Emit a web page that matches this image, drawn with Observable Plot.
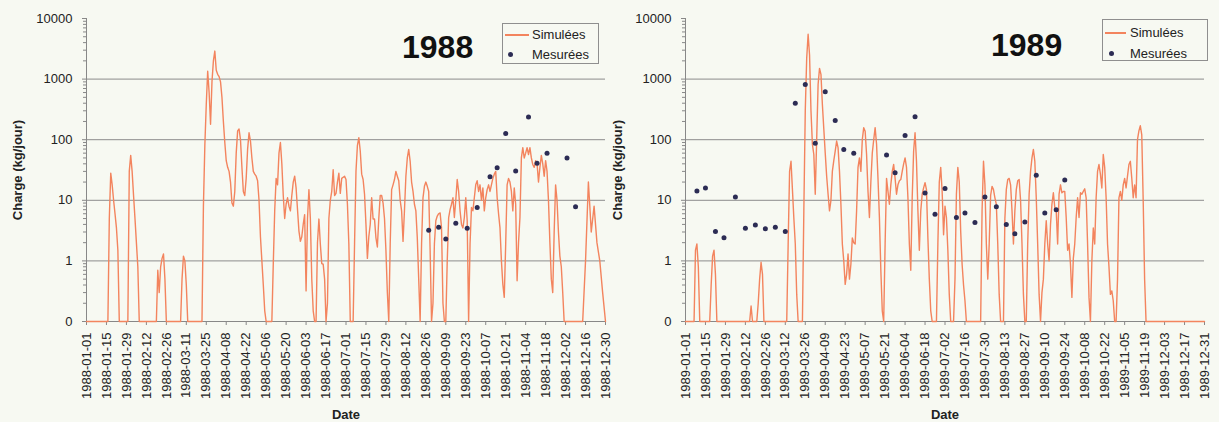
<!DOCTYPE html>
<html><head><meta charset="utf-8">
<script src="https://cdn.jsdelivr.net/npm/d3@7"></script>
<script src="https://cdn.jsdelivr.net/npm/@observablehq/plot@0.6"></script>
<style>
body{margin:0;background:#f7f9f2;}
#wrap{position:relative;width:1219px;height:422px;overflow:hidden;font-family:"Liberation Sans",Arial,sans-serif;background:#f7f9f2;}
#wrap svg{position:absolute;top:0;}
.title{position:absolute;font-weight:bold;font-size:32px;line-height:32px;color:#111;}
.legend{position:absolute;border:1px solid #8f8f8f;box-sizing:border-box;font-size:13px;color:#222;}
.legend .row{position:absolute;left:0;height:14px;line-height:14px;white-space:nowrap;}
.legend .sw{position:absolute;top:6px;height:1.5px;background:#f3845e;}
.legend .dt{position:absolute;top:4px;width:5px;height:5px;border-radius:50%;background:#2c2c54;}
.legend .tx{position:absolute;top:0;}
</style></head>
<body><div id="wrap"></div>
<script>
// ---- data: [day offset from Jan 1, value in kg/jour] ----
const sim1988 = [[0,0],[15,0],[16,5],[17,28],[18,18],[19,10],[20,6],[21,3.5],[22,1.5],[23,0],
[29,0],[30,30],[31,55],[32,30],[33,12],[34,5],[35,2],[36,0.8],[37,0],
[49,0],[50,0.7],[51,0.3],[52,0.8],[53,1.1],[54,1.3],[55,0.5],[56,0],
[66,0],[67,0.5],[68,1.2],[69,1.0],[70,0.4],[71,0],
[81,0],[82,8],[83,80],[84,380],[85,1350],[86,600],[87,180],[88,900],[89,2000],[90,2900],[91,1400],[92,1200],[93,1100],[94,900],[95,500],[96,200],[97,90],[98,45],[99,35],[100,30],[101,20],[102,9],[103,8],[104,14],[105,60],[106,140],[107,150],
[108,100],[109,35],[110,14],[111,12],[112,23],[113,70],[114,130],[115,95],[116,50],[117,30],[118,27],[119,25],[120,21],[121,10],[122,2.5],[123,1],[124,0.4],[125,0.15],[126,0],[130,0],[131,0.9],[132,6.7],[133,23],[134,18],[135,60],[136,90],[137,40],[138,12],[139,5],[140,8.6],[141,11],[142,8],[143,6.7],[144,12],[145,20],[146,25],[147,16],[148,7],[149,3.1],[150,2.1],[151,2.5],[152,4],[153,5.8],[154,0.32],[155,5],[156,15],[157,5],[158,0.5],[159,0.15],[160,0],[161,0],[162,2],[163,4.9],[164,1.9],[165,0.9],[166,0.88],[167,0.5],[168,0],[169,0.2],[170,5],[171,10],[172,14],[173,32],[174,12],[175,13],[176,20],[177,28],[178,13],[179,23],[180,24],[181,25],[182,22],[183,8.6],[184,1.9],[185,0],[187,0],[188,1.9],[189,30],[190,80],[191,108],[192,65],[193,27],[194,22],[195,12.6],[196,4],[197,1.1],[198,2.5],[199,4],[200,11],[201,4.9],[202,4.9],[203,2.4],[204,1.7],[205,5],[206,12],[207,12],[208,9],
[209,5],[210,1.5],[211,0.3],[212,0],[213,1.9],[214,15],[215,18],[216,22],[217,30],[218,25],[219,21],[220,10],[221,6.7],[222,2.1],[223,6.7],[224,25],[225,50],[226,69],[227,44],[228,20],[229,14],[230,8.6],[231,6.7],[232,2.4],[233,0.5],[234,0],[235,1.9],[236,11],[237,17],[238,20],[239,17],[240,14],[241,1.5],[242,0],[243,0.2],[244,1.9],[245,4.6],[246,5.5],[247,6],[248,6.2],[249,3.5],[250,0.2],[251,0],[252,0],[253,1],[254,5.2],[255,7],[256,8.6],[257,11],[258,5.2],[259,10],[260,22],[261,14],[262,6.7],[263,4],[264,3.5],[265,5.2],[266,11],[267,4.6],[268,0],[269,1.9],[270,7.6],[271,6.7],[272,11],[273,18],[274,21],[275,14],[276,18],[277,10],[278,16],[279,6.7],[280,11],[281,15],[282,18],[283,14],[284,18],[285,23],[286,27],[287,30],[288,11],[289,6],[290,3.5],[291,1],[292,0.41],[293,0.25],[294,1.9],[295,18],[296,23],[297,20],[298,14],[299,6.7],[300,16],[301,8.6],[302,0.47],[303,2],[304,5.2],[305,50],[306,74],[307,50],[308,60],[309,74],[310,57],[311,74],[312,50],[313,39],[314,35],
[315,45],[316,40],[317,20],[318,35],[319,55],[320,40],[321,25],[322,45],[323,30],[324,10],[325,2],[326,0.5],[327,0.3],[328,3],[329,18],[330,10],[331,3],[332,1.2],[333,0.8],[334,0.3],[335,0],[348,0],[350,1],[352,20],[353,8],[354,3],[356,8],[358,2],[360,1],[362,0.3],[364,0]];
const meas1988 = [[240,3.2],[247,3.6],[252,2.3],[259,4.2],[267,3.45],[274,7.6],[283,24.5],[288,34.5],[294,126],[301,30.5],[310,236],[316,41],[323,60],[337,50],[343,7.8]];

const sim1989 = [[0,0],[6,0],[7,1.5],[8,1.9],[9,0.8],[10,0],[17,0],[18,0.4],[19,1.2],[20,1.5],[21,0.6],[22,0],[45,0],[46,0.18],[47,0],[50,0],[51,0.2],[52,0.5],[53,0.95],[54,0.6],[55,0.1],[56,0],
[71,0],[72,1.9],[73,30],[74,44],[75,15],[76,5],[77,1.9],[78,0.28],[79,0.1],[80,0],[82,0],[83,6.7],[84,300],[85,2200],[86,5500],[87,2500],[88,300],[89,84],[90,57],[91,12.6],[92,100],[93,815],[94,1500],[95,1200],[96,380],[97,150],[98,60],[99,25],[100,12.6],[101,6.7],[102,10],[103,30],[104,45],[105,65],[106,95],[107,74],[108,30],[109,8.6],[110,1.9],[111,1],[112,0.41],[113,0.6],[114,1.3],[115,0.5],[116,0.88],[117,2.4],[118,2],[119,1.9],[120,6.7],[121,35],[122,50],[123,30],[124,100],[125,158],[126,138],[127,57],[128,14],[129,5.2],[130,20],[131,60],[132,100],[133,158],[134,84],[135,23],[136,5.2],[137,0.7],[138,0.15],[139,0],[140,1.9],[141,23],[142,14],[143,8.6],[144,18],[145,30],[146,39],[147,23],[148,12.6],[149,18],[150,21],[151,22],[152,30],[153,40],[154,50],[155,35],[156,11],[157,1.9],[158,0.7],[159,11],[160,65],[161,130],[162,44],[163,6.7],[164,1.5],[165,6.7],[166,12.6],[167,16],[168,19.5],[169,15],[170,2.4],[171,0.5],[172,0.15],[173,0],[176,0],[177,1.9],[178,20],[179,35],[180,14],[181,2.7],[182,8],[183,5.2],[184,1.5],[185,0.28],[186,0],[188,0],[189,0.5],[190,12.6],[191,35],[192,20],[193,3.1],[194,0.88],[195,0.4],[196,0.22],[197,0],[207,0],[208,6.7],[209,44],[210,18],[211,1.9],[212,0.5],[213,1.9],[214,12],[215,17],[216,15],[217,11],[218,8.6],[219,1.9],[220,0.28],[221,0],[223,0],[224,5],[225,15],[226,22],[227,23],[228,18],[229,6.7],[230,1.9],[231,6.7],[232,15],[233,21],[234,22],[235,10],[236,1.9],[237,0.28],[238,0],[239,0],[240,1.9],[241,12.6],[242,30],[243,50],[244,69],[245,44],[246,11],[247,1.9],[248,0.28],[249,0],[250,0.3],[251,0.5],[252,1.9],[253,4.6],[254,1.9],[255,1],[256,4],[257,8.6],[258,13.3],[259,7.6],[260,6.7],[261,1.9],[262,12.6],[263,18],[264,13.3],[265,14],[266,14],[267,5.2],[268,1.5],[269,1.9],[270,0.88],[271,0.25],[272,1.1],[273,1.9],[274,5.2],[275,11],[276,5.2],[277,13.3],[278,12.6],[279,14],[280,15.5],[281,11],[282,1.9],[283,0.25],[284,0],[285,1],[286,3.5],[287,1.9],[288,11],[289,30],[290,39],[291,27],[292,16],[293,57],[294,35],[295,11],[296,1.9],[297,0.8],[298,0.28],[299,0.32],[300,0.22],[301,0.1],[302,0],[303,0.5],[304,11],[305,14],[306,10],[307,18],[308,23],[309,16],[310,25],[311,39],[312,44],[313,23],[314,11],[315,18],[316,11],[317,100],[318,140],[319,170],[320,120],[321,10],[322,0.5],[323,0],[364,0]];
const meas1989 = [[8,14.2],[14,16],[21,3.05],[27,2.4],[35,11.3],[42,3.45],[49,3.9],[56,3.4],[63,3.6],[70,3.05],[77,400],[84,815],[91,87],[98,620],[105,208],[111,69],[118,60],[141,56],[147,28.5],[154,117],[161,240],[168,13.2],[175,5.9],[182,15.7],[190,5.2],[196,6.2],[203,4.3],[210,11.3],[218,7.8],[225,4],[231,2.8],[238,4.4],[246,25.8],[252,6.2],[260,7],[266,21.6]];

const yMajor = [0.1, 1, 10, 100, 1000, 10000];
const yGrid = [1, 10, 100, 1000];
const yLabels = ["0", "1", "10", "100", "1000", "10000"];
const tickEveryDays = 14;
const spanDays = 364;
const yTitle = "Charge (kg/jour)";
const xTitle = "Date";
const legendLabels = ["Simulées", "Mesurées"];

const LINE = "#f3845e", DOT = "#2c2c54", GRID = "#8c8c8c", AXIS = "#888";
const fmt = d3.utcFormat("%Y-%m-%d");
const minor = [];
for (let k = -1; k < 4; k++) for (let m = 2; m <= 9; m++) minor.push(m * Math.pow(10, k));

function panel(year, sim, meas, left, width, mLeft, mRight, yDx) {
  const t0 = Date.UTC(year, 0, 1);
  const toDate = d => new Date(t0 + d * 864e5);
  const simD = sim.map(([d, v]) => ({date: toDate(d), v}));
  const measD = meas.map(([d, v]) => ({date: toDate(d), v}));
  const ticks = d3.range(0, spanDays + 1, tickEveryDays).map(toDate);
  const yv = d => Math.max(d.v, 0.1);
  const svg = Plot.plot({
    width, height: 422, marginLeft: mLeft, marginRight: mRight, marginTop: 18, marginBottom: 101,
    style: {background: "transparent", fontFamily: '"Liberation Sans", Arial, sans-serif', fontSize: "13px", color: "#222", overflow: "visible"},
    x: {type: "utc", domain: [toDate(0), toDate(spanDays)]},
    y: {type: "log", domain: [0.1, 10000]},
    marks: [
      Plot.gridY(yGrid, {stroke: GRID, strokeOpacity: 1, strokeWidth: 1}),
      Plot.ruleY([0.1], {stroke: AXIS}),
      Plot.ruleX([toDate(0)], {stroke: AXIS}),
      Plot.axisY(minor, {tickSize: 3, tickFormat: () => "", stroke: AXIS, label: null}),
      Plot.axisY(yMajor, {tickSize: 4, tickPadding: 10, stroke: AXIS, label: null,
        tickFormat: d => yLabels[yMajor.indexOf(d)]}),
      Plot.axisX(ticks, {tickSize: 4, tickPadding: 7, tickRotate: -90, stroke: AXIS, label: null, tickFormat: fmt}),
      Plot.line(simD, {x: "date", y: yv, stroke: LINE, strokeWidth: 1.4, curve: "linear"}),
      Plot.dot(measD, {x: "date", y: yv, r: 2.5, fill: DOT, stroke: "none"}),
      Plot.text([yTitle], {frameAnchor: "left", dx: yDx, rotate: -90, textAnchor: "middle", lineAnchor: "middle", fontWeight: "bold", fontSize: 13, fill: "#222"}),
      Plot.text([xTitle], {frameAnchor: "bottom", dy: 93, textAnchor: "middle", lineAnchor: "middle", fontWeight: "bold", fontSize: 13, fill: "#222"})
    ]
  });
  svg.style.left = left + "px";
  svg.style.overflow = "visible";
  return svg;
}

const wrap = document.getElementById("wrap");
wrap.appendChild(panel(1988, sim1988, meas1988, 0, 625, 86, 20, -68.5));
wrap.appendChild(panel(1989, sim1989, meas1989, 605, 614, 80, 15, -67.5));

function addTitle(text, left, top) {
  const t = document.createElement("div");
  t.className = "title"; t.textContent = text;
  t.style.left = left + "px"; t.style.top = top + "px";
  wrap.appendChild(t);
}
addTitle("1988", 402, 31);
addTitle("1989", 991, 29);

function addLegend(left, top, w, h, swX, swW, dotX, txX, row1, row2) {
  const L = document.createElement("div");
  L.className = "legend";
  Object.assign(L.style, {left: left + "px", top: top + "px", width: w + "px", height: h + "px"});
  L.innerHTML =
    `<div class="row" style="top:${row1}px;width:100%"><div class="sw" style="left:${swX}px;width:${swW}px"></div><span class="tx" style="left:${txX}px">${legendLabels[0]}</span></div>` +
    `<div class="row" style="top:${row2}px;width:100%"><div class="dt" style="left:${dotX}px"></div><span class="tx" style="left:${txX}px">${legendLabels[1]}</span></div>`;
  wrap.appendChild(L);
}
addLegend(502, 23, 97, 41, 2, 24, 5, 29, 4, 24);
addLegend(1102, 19, 106, 42, 2, 21, 6, 27, 6, 27);
</script></body></html>
